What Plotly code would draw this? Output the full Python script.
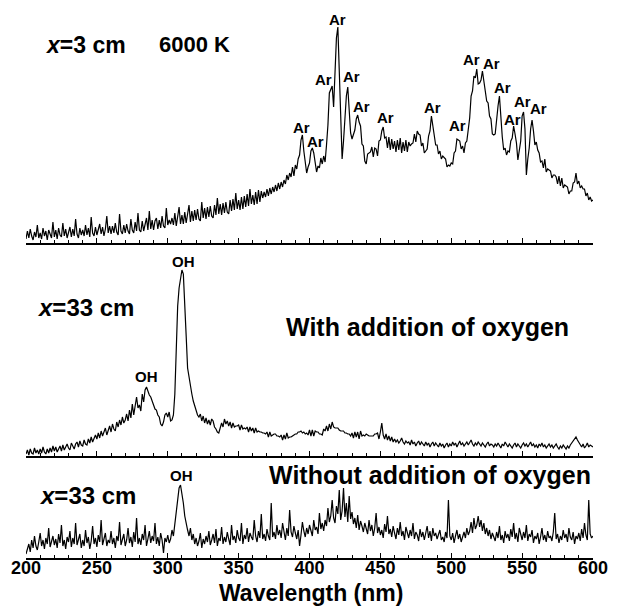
import plotly.graph_objects as go

# wavelength grid (nm), 1 nm steps
wavelength = list(range(200, 601))

# x = 3 cm, 6000 K spectrum (arbitrary intensity units)
top_spec = [
    4, 12, 5, 14, 7, 3, 11, 6, 18, 5,
    10, 4, 15, 7, 12, 3, 13, 8, 5, 21,
    6, 13, 4, 15, 8, 6, 20, 7, 14, 5,
    12, 16, 6, 14, 7, 24, 9, 5, 15, 8,
    13, 7, 18, 8, 15, 6, 26, 10, 7, 16,
    8, 15, 19, 9, 16, 7, 14, 27, 10, 17,
    9, 17, 10, 20, 11, 8, 29, 12, 9, 18,
    10, 19, 12, 9, 24, 13, 10, 21, 12, 30,
    13, 11, 22, 12, 20, 25, 13, 32, 14, 23,
    13, 22, 25, 14, 23, 15, 27, 17, 15, 35,
    18, 23, 19, 25, 18, 30, 17, 28, 36, 19,
    28, 19, 31, 20, 29, 38, 21, 32, 22, 33,
    23, 34, 24, 22, 41, 25, 35, 24, 36, 26,
    37, 27, 25, 38, 28, 45, 29, 39, 28, 40,
    30, 41, 31, 29, 43, 32, 44, 33, 50, 34,
    43, 33, 46, 34, 47, 36, 49, 37, 54, 39,
    48, 38, 51, 39, 53, 41, 52, 45, 51, 46,
    54, 47, 55, 49, 56, 51, 58, 52, 60, 54,
    61, 56, 63, 59, 68, 63, 70, 66, 76, 67,
    78, 74, 84, 88, 103, 108, 92, 78, 70, 76,
    80, 92, 95, 90, 78, 71, 77, 75, 85, 79,
    87, 81, 98, 118, 150, 153, 157, 136, 178, 205,
    216, 172, 112, 84, 102, 123, 147, 156, 132, 110,
    104, 110, 113, 124, 128, 121, 117, 99, 97, 82,
    79, 89, 90, 91, 96, 86, 95, 94, 87, 102,
    103, 112, 116, 105, 106, 95, 106, 93, 104, 94,
    102, 91, 103, 93, 105, 90, 101, 92, 103, 91,
    101, 97, 99, 100, 109, 101, 112, 109, 108, 97,
    100, 90, 92, 94, 107, 112, 127, 117, 112, 98,
    98, 89, 92, 84, 87, 85, 84, 76, 78, 77,
    80, 79, 90, 92, 104, 103, 102, 94, 97, 90,
    100, 102, 114, 125, 147, 152, 167, 165, 174, 159,
    160, 163, 172, 159, 152, 142, 140, 127, 124, 109,
    108, 109, 127, 137, 147, 125, 106, 93, 95, 88,
    92, 91, 102, 105, 117, 109, 100, 83, 92, 102,
    127, 131, 114, 68, 84, 95, 114, 123, 112, 98,
    101, 93, 90, 81, 82, 75, 84, 71, 74, 73,
    72, 65, 68, 68, 66, 59, 67, 57, 65, 55,
    58, 57, 56, 49, 52, 52, 60, 61, 70, 59,
    62, 55, 57, 54, 54, 47, 50, 43, 46, 42,
    43,
]

# x = 33 cm, with addition of oxygen
mid_spec = [
    2, 6, 1, 7, 3, 2, 8, 3, 6, 2,
    7, 3, 9, 4, 2, 7, 3, 8, 4, 10,
    5, 9, 4, 8, 10, 5, 11, 6, 9, 12,
    8, 6, 13, 9, 7, 12, 14, 9, 15, 11,
    10, 16, 12, 11, 17, 13, 19, 14, 18, 21,
    17, 23, 18, 25, 20, 24, 28, 21, 27, 30,
    24, 32, 27, 25, 34, 29, 36, 31, 39, 33,
    36, 42, 35, 46, 38, 52, 41, 49, 59, 48,
    51, 45, 62, 54, 66, 69, 64, 61, 59, 54,
    51, 47, 46, 41, 39, 32, 30, 34, 41, 43,
    39, 44, 35, 36, 41, 62, 110, 150, 168, 178,
    186, 182, 156, 120, 88, 78, 70, 62, 55, 50,
    47, 41, 39, 42, 35, 40, 33, 38, 32, 36,
    31, 37, 35, 29, 27, 24, 23, 29, 33, 29,
    37, 32, 35, 30, 34, 28, 33, 29, 30, 30,
    31, 26, 31, 27, 28, 27, 29, 24, 29, 25,
    28, 23, 28, 24, 25, 24, 24, 23, 23, 22,
    24, 19, 24, 20, 21, 22, 22, 20, 20, 19,
    21, 16, 21, 17, 23, 18, 19, 19, 20, 21,
    22, 22, 24, 24, 25, 23, 24, 22, 23, 21,
    26, 20, 26, 20, 25, 24, 24, 22, 22, 21,
    27, 25, 30, 25, 32, 27, 34, 29, 28, 28,
    28, 26, 25, 25, 25, 23, 23, 22, 22, 20,
    23, 18, 24, 19, 24, 17, 25, 20, 21, 20,
    22, 21, 20, 20, 20, 20, 22, 22, 23, 17,
    24, 33, 21, 17, 22, 16, 20, 15, 19, 14,
    17, 14, 16, 13, 15, 18, 14, 12, 15, 13,
    14, 11, 16, 12, 14, 10, 13, 15, 11, 14,
    12, 10, 14, 11, 13, 9, 12, 14, 10, 13,
    11, 9, 13, 10, 12, 8, 11, 13, 9, 12,
    10, 14, 11, 13, 9, 12, 15, 11, 13, 10,
    12, 14, 11, 13, 16, 12, 10, 13, 11, 14,
    12, 10, 13, 11, 9, 12, 14, 10, 12, 11,
    9, 12, 10, 13, 11, 8, 12, 10, 14, 11,
    9, 12, 10, 8, 11, 13, 9, 12, 10, 8,
    11, 13, 10, 12, 9, 11, 14, 10, 12, 9,
    11, 8, 12, 10, 13, 9, 11, 8, 10, 12,
    9, 11, 8, 10, 12, 9, 7, 10, 8, 11,
    9, 7, 10, 8, 11, 13, 15, 17, 19, 16,
    14, 11, 9, 12, 8, 10, 13, 9, 11, 10,
    9,
]

# x = 33 cm, without addition of oxygen
bot_spec = [
    4, 8, 14, 6, 18, 10, 22, 12, 8, 16,
    25, 12, 18, 9, 20, 14, 30, 11, 17, 22,
    13, 19, 10, 24, 15, 33, 12, 18, 9, 21,
    16, 27, 11, 20, 14, 35, 13, 19, 24, 10,
    18, 12, 28, 15, 21, 9, 17, 32, 14, 20,
    11, 23, 16, 38, 13, 19, 25, 12, 18, 15,
    27, 14, 20, 10, 22, 17, 36, 13, 19, 24,
    12, 18, 30, 15, 21, 11, 26, 16, 40, 14,
    20, 13, 24, 18, 33, 12, 19, 27, 15, 22,
    17, 35, 14, 21, 12, 25, 18, 5, 20, 16,
    23, 15, 19, 28, 22, 35, 50, 62, 70, 73,
    65, 55, 42, 33, 28, 22, 30, 18, 24, 14,
    20, 12, 17, 25, 10, 19, 14, 22, 16, 27,
    13, 18, 24, 15, 29, 12, 20, 17, 31, 14,
    21, 16, 26, 19, 13, 33, 18, 22, 15, 28,
    20, 17, 35, 14, 23, 19, 30, 16, 25, 21,
    18, 38, 22, 16, 27, 20, 44, 19, 24, 17,
    29, 22, 18, 55, 21, 26, 19, 33, 23, 28,
    20, 35, 24, 18, 30, 22, 48, 26, 21, 32,
    25, 19, 28, 12, 23, 36, 27, 21, 30, 24,
    33, 26, 22, 38, 28, 31, 24, 45, 29, 35,
    27, 38, 32, 50, 36, 42, 58, 40, 35, 52,
    44, 68, 38, 47, 70, 41, 55, 36, 62, 39,
    46, 34, 40, 30, 43, 28, 37, 32, 26, 35,
    29, 24, 38, 27, 33, 22, 30, 45, 25, 31,
    23, 28, 20, 34, 26, 42, 24, 29, 21, 32,
    25, 19, 30, 23, 36, 22, 27, 18, 31, 24,
    20, 28, 22, 35, 19, 26, 23, 17, 29, 21,
    26, 18, 24, 32, 20, 27, 17, 30, 22, 25,
    19, 23, 28, 18, 21, 16, 26, 20, 58, 22,
    18, 25, 15, 22, 28, 19, 24, 16, 21, 26,
    20, 30, 23, 27, 36, 25, 40, 29, 33, 42,
    31, 38, 27, 35, 24, 30, 22, 28, 19, 25,
    21, 17, 26, 20, 32, 18, 23, 15, 27, 20,
    24, 17, 29, 21, 35, 19, 25, 16, 30, 22,
    18, 26, 20, 33, 17, 24, 21, 28, 15, 22,
    19, 25, 14, 21, 30, 18, 23, 16, 27, 20,
    22, 17, 26, 45, 19, 24, 15, 22, 18, 28,
    20, 24, 16, 30, 21, 18, 26, 14, 22, 19,
    25, 17, 29, 20, 35, 23, 18, 58, 24, 20,
    22,
]

# "Ar" line labels (wavelength nm, label height in top-panel units)
ar_wl = [394.7, 403.9, 410.2, 420.1, 429.3, 437.0, 453.3, 487.1,
         504.1, 514.6, 528.7, 535.8, 542.9, 550.6, 561.9]
ar_h = [116, 102, 164, 224, 167, 137, 126, 136,
        118, 184, 180, 156, 124, 142, 135]

# "OH" labels
oh_mid_wl = [285.0, 310.8]
oh_mid_h = [80, 195]
oh_bot_wl = [309.9]
oh_bot_h = [83]

tick_vals = [200, 250, 300, 350, 400, 450, 500, 550, 600]

FONT = "Liberation Sans, Arial, Helvetica, sans-serif"

# The page body adds an 8 px margin, so the figure is 8 px smaller and all
# layout coordinates below are given in window pixels.
BODY = 8
W, H = 618 - BODY, 607 - BODY
PLOT_L, PLOT_R, PLOT_T, PLOT_B = 26, 593, 10, 558   # window pixels
ML = PLOT_L - BODY
MR = 618 - PLOT_R
MT = PLOT_T - BODY
MB = 607 - PLOT_B
PW = PLOT_R - PLOT_L
PH = PLOT_B - PLOT_T


def px(xp):
    return (xp - PLOT_L) / PW


def py(yp):
    return (PLOT_B - yp) / PH


fig = go.Figure()
line = dict(color="black", width=1.2)
fig.add_trace(go.Scatter(x=wavelength, y=top_spec, mode="lines", line=line,
                         xaxis="x", yaxis="y", hoverinfo="skip"))
fig.add_trace(go.Scatter(x=wavelength, y=mid_spec, mode="lines", line=line,
                         xaxis="x2", yaxis="y2", hoverinfo="skip"))
fig.add_trace(go.Scatter(x=wavelength, y=bot_spec, mode="lines", line=line,
                         xaxis="x3", yaxis="y3", hoverinfo="skip"))

xcommon = dict(range=[200, 600], showgrid=False, zeroline=False, showline=True,
               linecolor="black", linewidth=1.5, ticks="inside", ticklen=5,
               tickcolor="black", tickwidth=1, automargin=False,
               minor=dict(ticks="inside", ticklen=3, dtick=10, tickcolor="black",
                          tickwidth=1, showgrid=False),
               fixedrange=True)
ycommon = dict(visible=False, showgrid=False, zeroline=False, fixedrange=True)

annotations = []
for xv, yv in zip(ar_wl, ar_h):
    annotations.append(dict(x=xv, y=yv, xref="x", yref="y", text="<b>Ar</b>",
                            showarrow=False, font=dict(family=FONT, size=15, color="black")))
for xv, yv in zip(oh_mid_wl, oh_mid_h):
    annotations.append(dict(x=xv, y=yv, xref="x2", yref="y2", text="<b>OH</b>",
                            showarrow=False, font=dict(family=FONT, size=15, color="black")))
for xv, yv in zip(oh_bot_wl, oh_bot_h):
    annotations.append(dict(x=xv, y=yv, xref="x3", yref="y3", text="<b>OH</b>",
                            showarrow=False, font=dict(family=FONT, size=15, color="black")))

texts = [
    ("<b><i>x</i>=3 cm</b>", 43, 45, 23, "left"),
    ("<b>6000 K</b>", 157, 45, 22, "left"),
    ("<b><i>x</i>=33 cm</b>", 35, 308, 24, "left"),
    ("<b>With addition of oxygen</b>", 571, 327, 25, "right"),
    ("<b><i>x</i>=33 cm</b>", 37, 495, 24, "left"),
    ("<b>Without addition of oxygen</b>", 593, 475, 25, "right"),
    ("<b>Wavelength (nm)</b>", 311, 593, 23, "center"),
]
for t, xp, yp, s, anc in texts:
    annotations.append(dict(x=px(xp), y=py(yp), xref="paper", yref="paper", text=t,
                            showarrow=False, xanchor=anc, yanchor="middle",
                            font=dict(family=FONT, size=s, color="black")))

fig.update_layout(
    width=W, height=H,
    margin=dict(l=ML, r=MR, t=MT, b=MB, autoexpand=False),
    paper_bgcolor="white", plot_bgcolor="white",
    showlegend=False,
    xaxis=dict(domain=[0, 1], anchor="y", showticklabels=False, dtick=50, tick0=200, **xcommon),
    xaxis2=dict(domain=[0, 1], anchor="y2", matches="x", showticklabels=False,
                dtick=50, tick0=200, **xcommon),
    xaxis3=dict(domain=[0, 1], anchor="y3", matches="x", showticklabels=True,
                tickvals=tick_vals, ticktext=[str(v) for v in tick_vals],
                tickfont=dict(family=FONT, size=18, color="black", weight="bold"),
                ticklabelstandoff=-7,
                **xcommon),
    yaxis=dict(domain=[py(243), py(PLOT_T)], range=[0, 233], **ycommon),
    yaxis2=dict(domain=[py(456), py(250)], range=[0, 206], **ycommon),
    yaxis3=dict(domain=[0, py(468)], range=[0, 90], **ycommon),
    annotations=annotations,
)

fig.write_html("out.html")
